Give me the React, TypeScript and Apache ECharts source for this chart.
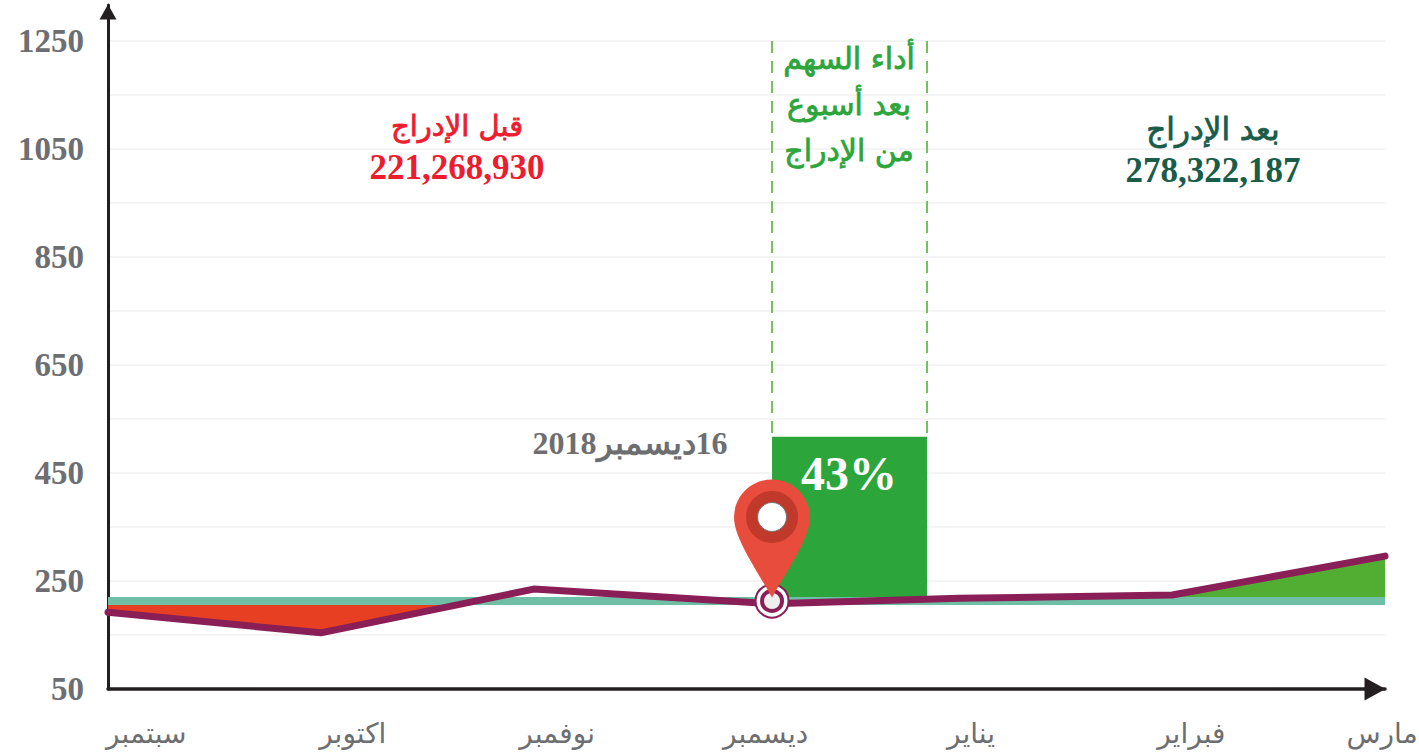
import React, { useEffect, useRef } from "react";
import * as echarts from "echarts";

const months = ["سبتمبر", "اكتوبر", "نوفمبر", "ديسمبر", "يناير", "فبراير", "مارس"];
const yLabels = [50, 250, 450, 650, 850, 1050, 1250];
const yGrid = [50, 150, 250, 350, 450, 550, 650, 750, 850, 950, 1050, 1150, 1250];
const priceLine: [number, number][] = [[0, 192], [1, 154], [2, 235], [3.12, 208], [4, 218], [5, 224], [6, 296]];
const listingLevel = 213;
const listingDate = 3.12;
const boxEnd = 3.848;
const boxTop = 517;
const belowArea: [number, number][] = [[0, 192], [1, 154], [1.73, 213]];
const aboveArea: [number, number][] = [[5, 224], [6, 296]];

const labelNudge = [0.18, 0.15, 0.11, 0.09, 0.055, 0.09, -0.014];
const PIN = "M38 0C59 0 76 17 76 38C76 58 55 88 38 118C21 88 0 58 0 38C0 17 17 0 38 0Z";
const SERIF = "'Liberation Serif', serif";
const ARABIC = "'DejaVu Sans', sans-serif";
const GREY = "#6d6e71";
const PURPLE = "#8a1f57";
const BOX = "#2ca63a";

export default function App() {
  const ref = useRef<HTMLDivElement>(null);
  useEffect(() => {
    const chart = echarts.init(ref.current!, undefined, { renderer: "svg" });
    const labelPos = months.map((_, i) => i + labelNudge[i]);
    const text = (x: number, y: number, t: string, fill: string, size: number, font: string, extra: any = {}) => ({
      type: "text",
      x,
      y,
      z: 50,
      style: { text: t, fill, fontSize: size, fontFamily: font, align: "center", verticalAlign: "middle", ...extra },
    });
    const heavy = (fill: string) => ({ stroke: fill, lineWidth: 0.8 });
    chart.setOption({
      animation: false,
      backgroundColor: "#ffffff",
      grid: { left: 108, right: 34, top: 5, height: 684, outerBoundsMode: "none" },
      xAxis: {
        type: "value",
        min: 0,
        max: 6,
        splitLine: { show: false },
        axisTick: { show: false },
        axisLine: {
          show: true,
          onZero: false,
          lineStyle: { color: "#231f20", width: 3.5 },
          symbol: ["none", "triangle"],
          symbolSize: [23, 21],
          symbolOffset: [0, -10],
        },
        axisLabel: {
          customValues: labelPos,
          formatter: (v: number) => {
            const i = labelPos.findIndex((p) => Math.abs(p - v) < 1e-6);
            return i >= 0 ? months[i] : "";
          },
          margin: 30,
          color: GREY,
          fontSize: 28,
          fontFamily: ARABIC,
        },
      },
      yAxis: {
        type: "value",
        min: 50,
        max: 1316.67,
        axisLine: {
          show: true,
          onZero: false,
          lineStyle: { color: "#231f20", width: 3 },
          symbol: ["none", "triangle"],
          symbolSize: [17, 15],
          symbolOffset: [0, -7],
        },
        axisTick: { show: false, customValues: yGrid },
        splitLine: { show: true, lineStyle: { color: "#f0f0f0", width: 1.5 } },
        axisLabel: {
          customValues: yLabels,
          formatter: (v: number) => String(v),
          margin: 24,
          color: GREY,
          fontSize: 33,
          fontWeight: "bold",
          fontFamily: SERIF,
        },
      },
      series: [
        {
          type: "line",
          name: "box",
          data: [],
          z: 1,
          silent: true,
          markArea: {
            silent: true,
            z: 1,
            itemStyle: { color: BOX },
            data: [[{ coord: [listingDate, listingLevel] }, { coord: [boxEnd, boxTop] }]],
          },
          markLine: {
            silent: true,
            z: 1,
            symbol: "none",
            label: { show: false },
            lineStyle: { color: "#74c25c", width: 2, type: [12, 8] },
            data: [
              [{ coord: [listingDate, 1250] }, { coord: [listingDate, boxTop] }],
              [{ coord: [boxEnd, 1250] }, { coord: [boxEnd, boxTop] }],
            ],
          },
        },
        {
          type: "line",
          name: "before",
          data: belowArea,
          z: 2,
          symbol: "none",
          lineStyle: { width: 0 },
          areaStyle: { origin: listingLevel, color: "#e73f22", opacity: 1 },
        },
        {
          type: "line",
          name: "after",
          data: aboveArea,
          z: 2,
          symbol: "none",
          lineStyle: { width: 0 },
          areaStyle: { origin: listingLevel, color: "#52ae32", opacity: 1 },
        },
        {
          type: "line",
          name: "level",
          data: [[0, listingLevel], [6, listingLevel]],
          z: 3,
          symbol: "none",
          lineStyle: { color: "#6fbfa6", width: 8 },
        },
        {
          type: "line",
          name: "price",
          data: priceLine,
          z: 4,
          symbol: "none",
          lineStyle: { color: PURPLE, width: 7, cap: "round", join: "round" },
        },
        {
          type: "line",
          name: "pin",
          data: [],
          z: 5,
          markPoint: {
            silent: true,
            z: 6,
            label: { show: false },
            data: [
              { coord: [listingDate, listingLevel], symbol: "circle", symbolSize: 33, itemStyle: { color: "#ffffff", borderColor: PURPLE, borderWidth: 2 } },
              { coord: [listingDate, listingLevel], symbol: "circle", symbolSize: 20, itemStyle: { color: "#eeeeee", borderColor: PURPLE, borderWidth: 4 } },
              { coord: [listingDate, listingLevel], symbol: "path://" + PIN, symbolSize: [76, 118], symbolOffset: [0, -62.5], itemStyle: { color: "#e74c3c" } },
              { coord: [listingDate, listingLevel], symbol: "circle", symbolSize: 52, symbolOffset: [0, -84], itemStyle: { color: "#c0392b" } },
              { coord: [listingDate, listingLevel], symbol: "circle", symbolSize: 29, symbolOffset: [0, -84], itemStyle: { color: "#ffffff", borderColor: "#777777", borderWidth: 1 } },
            ],
          },
        },
      ],
      graphic: [
        text(457, 126, "قبل الإدراج", "#ed1c2e", 29, ARABIC, heavy("#ed1c2e")),
        text(457, 167, "221,268,930", "#ed1c2e", 35, SERIF, { fontWeight: "bold" }),
        text(1213, 129, "بعد الإدراج", "#1a5c4a", 31, ARABIC, heavy("#1a5c4a")),
        text(1213, 170, "278,322,187", "#1a5c4a", 35, SERIF, { fontWeight: "bold" }),
        text(849, 104, "أداء السهم\nبعد أسبوع\nمن الإدراج", BOX, 30, ARABIC, { lineHeight: 46, ...heavy(BOX) }),
        text(630, 443, "\u200F16ديسمبر\u200F2018\u200F", GREY, 32, SERIF, { fontWeight: "bold" }),
        text(849, 473, "43%", "#ffffff", 48, SERIF, { fontWeight: "bold" }),
      ],
    });
    return () => chart.dispose();
  }, []);
  return <div ref={ref} style={{ position: "fixed", left: 0, top: 0, width: 1419, height: 755 }} />;
}
